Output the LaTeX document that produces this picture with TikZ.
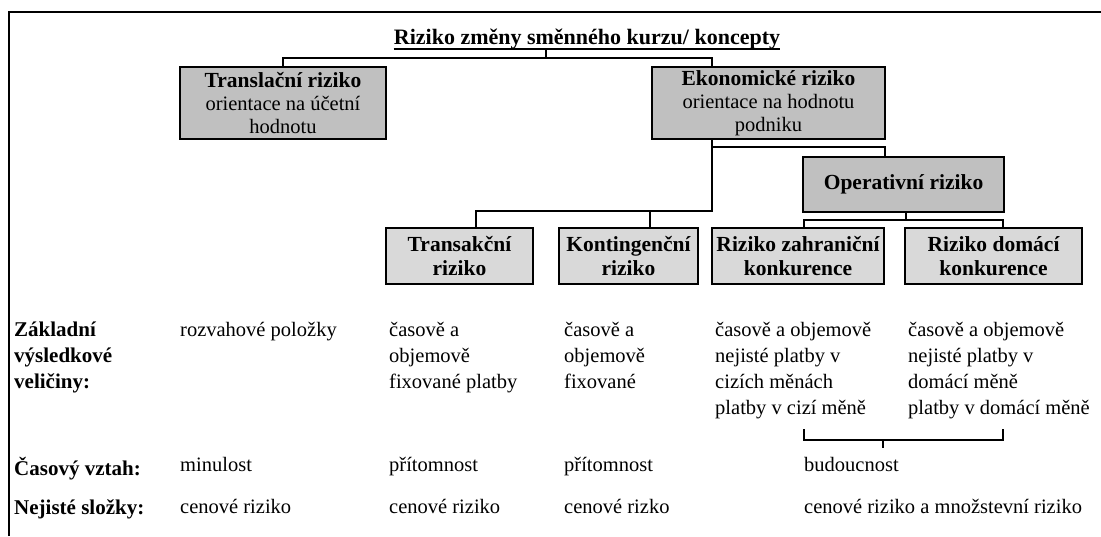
\documentclass[tikz,border=0pt]{standalone}
\usepackage{fontspec}
\setmainfont{Liberation Serif}
\usetikzlibrary{calc}
\definecolor{upgray}{HTML}{C0C0C0}
\definecolor{lowgray}{HTML}{D9D9D9}
\newcommand{\hd}[1]{{\fontsize{21.5}{23}\selectfont\bfseries #1}}

\begin{document}
\begin{tikzpicture}[x=1pt, y=-1pt, font=\fontsize{20.5}{23}\selectfont,
  frame/.style={line width=2.6pt},
  conn/.style={line width=2.4pt},
  upbox/.style={draw, line width=2.6pt, fill=upgray, inner sep=0pt, align=center},
  lowbox/.style={draw, line width=2.6pt, fill=lowgray, inner sep=0pt, align=center,
    minimum height=56, font=\fontsize{21.5}{24}\selectfont\bfseries},
  cell/.style={anchor=north west, inner sep=0pt, align=left, font=\fontsize{20.5}{26}\selectfont},
  rowlabel/.style={cell, font=\fontsize{21}{26}\selectfont\bfseries}]
\useasboundingbox (0,0) rectangle (1101,536);
\draw[frame] (9,536) -- (9,12) -- (1101,12);

% title and upper boxes
\node[inner sep=0pt, anchor=base, font=\fontsize{22}{24}\selectfont\bfseries] (title) at (587,44)
  {Riziko změny směnného kurzu/ koncepty};
\draw[line width=2pt] ([yshift=-5pt]title.base west) -- ([yshift=-5pt]title.base east);
\coordinate (tu) at ([yshift=-5pt]title.base);
\node[upbox, minimum width=206, minimum height=72] (tr) at (283,103)
  {\hd{Translační riziko}\\orientace na účetní\\hodnotu};
\node[upbox, minimum width=233, minimum height=72] (ek) at (768.5,103)
  {\hd{Ekonomické riziko}\\orientace na hodnotu\\podniku};
\node[upbox, minimum width=201, minimum height=55, font=\fontsize{21.5}{24}\selectfont\bfseries] (op) at (903.5,184.5)
  {Operativní riziko};

% lower boxes
\node[lowbox, minimum width=147] (ta) at (459.5,256) {Transakční\\riziko};
\node[lowbox, minimum width=139] (ko) at (628.5,256) {Kontingenční\\riziko};
\node[lowbox, minimum width=172] (za) at (798,256) {Riziko zahraniční\\konkurence};
\node[lowbox, minimum width=177] (do) at (993.5,256) {Riziko domácí\\konkurence};

% connectors
\coordinate (tj) at (546,58);
\coordinate (ekx) at (712,0);
\coordinate (ej) at (712,211);
\coordinate (tax) at (476,0);
\coordinate (kox) at (650,0);
\coordinate (oj) at (712,147);
\coordinate (opx) at (885,0);
\coordinate (oq) at (906,220);
\coordinate (zax) at (804,0);
\coordinate (dox) at (1003,0);
\draw[conn] (tu -| tj) -- (tj);
\draw[conn] (tr.north) |- (tj) -| (ek.north -| ekx);
\draw[conn] (ek.south -| ej) -- (ej) -| (ta.north -| tax);
\draw[conn] (ej -| kox) -- (ko.north -| kox);
\draw[conn] (oj) -| (op.north -| opx);
\draw[conn] (op.south -| oq) -- (oq);
\draw[conn] (za.north -| zax) |- (oq) -| (do.north -| dox);

% rows
\node[rowlabel] (l1) at (14,322) {Základní\\výsledkové\\veličiny:};
\node[cell] (a1) at (180,322) {rozvahové položky};
\node[cell] (b1) at (389,322) {časově a\\objemově\\fixované platby};
\node[cell] (c1) at (564,322) {časově a\\objemově\\fixované};
\node[cell] (d1) at (715,322) {časově a objemově\\nejisté platby v\\cizích měnách\\platby v cizí měně};
\node[cell] (e1) at (908,322) {časově a objemově\\nejisté platby v\\domácí měně\\platby v domácí měně};

\coordinate (bl) at (804,429);
\coordinate (br) at (1003,429);
\coordinate (bj) at (883,440);
\draw[conn] (bl) -- (bl |- bj) -| (br);
\draw[conn] (bj) -- ++(0,8);

\node[rowlabel] (l2) at (14,457) {Časový vztah:};
\node[cell] (a2) at (180,457) {minulost};
\node[cell] (b2) at (389,457) {přítomnost};
\node[cell] (c2) at (564,457) {přítomnost};
\node[cell] (d2) at (804,457) {budoucnost};

\node[rowlabel] (l3) at (14,499) {Nejisté složky:};
\node[cell] (a3) at (180,499) {cenové riziko};
\node[cell] (b3) at (389,499) {cenové riziko};
\node[cell] (c3) at (564,499) {cenové rizko};
\node[cell] (d3) at (804,499) {cenové riziko a množstevní riziko};
\end{tikzpicture}
\end{document}
